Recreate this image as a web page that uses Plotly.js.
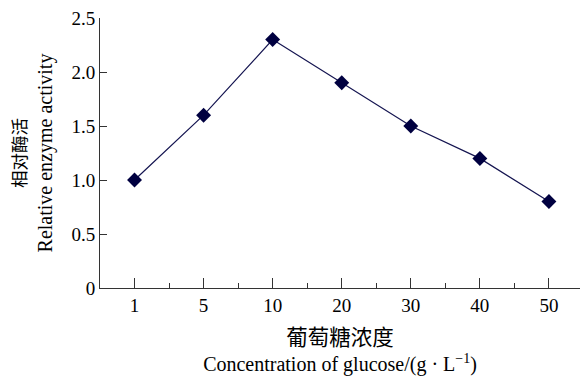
<!DOCTYPE html>
<html>
<head>
<meta charset="utf-8">
<script src="https://cdn.plot.ly/plotly-3.0.1.min.js"></script>
<style>html,body{margin:0;padding:0;background:#fff;}#chart{width:580px;height:376px;}</style>
</head>
<body>
<div id="chart"></div>
<script>
const categories = ['1', '5', '10', '20', '30', '40', '50'];
const activity = [1.0, 1.6, 2.3, 1.9, 1.5, 1.2, 0.8];
const yTickVals = [0, 0.5, 1.0, 1.5, 2.0, 2.5];
const yTickText = ['0', '0.5', '1.0', '1.5', '2.0', '2.5'];

const idx = categories.map((c, i) => i);
const minorVals = categories.slice(1).map((c, i) => i + 0.5);
const FONT = 'Liberation Serif, "Times New Roman", "Noto Sans CJK SC", serif';

const trace = {
  x: idx,
  y: activity,
  mode: 'lines+markers',
  line: {color: '#141450', width: 1.2},
  marker: {symbol: 'diamond', size: 11.5, color: '#000040'},
  cliponaxis: false,
  hoverinfo: 'x+y'
};

const layout = {
  width: 580, height: 376,
  margin: {l: 100, r: 0, t: 18, b: 88},
  paper_bgcolor: '#fff', plot_bgcolor: '#fff',
  showlegend: false,
  font: {family: FONT, size: 19, color: '#000'},
  xaxis: {
    range: [-0.5, 6.45],
    tickvals: idx, ticktext: categories,
    ticks: 'inside', ticklen: 10, tickcolor: '#333', tickwidth: 1,
    minor: {tickvals: minorVals, ticks: 'inside', ticklen: 5, tickcolor: '#333', tickwidth: 1},
    showline: true, linecolor: '#333', linewidth: 1,
    showgrid: false, zeroline: false,
    tickfont: {family: FONT, size: 19},
    title: {text: '<span style="font-size:21.5px">葡萄糖浓度</span><br>Concentration of glucose/(g · L<sup>−1</sup>)', font: {family: FONT, size: 20}, standoff: 16}
  },
  yaxis: {
    range: [0, 2.5],
    tickvals: yTickVals, ticktext: yTickText,
    ticks: 'inside', ticklen: 7, tickcolor: '#333', tickwidth: 1,
    showline: true, linecolor: '#333', linewidth: 1,
    showgrid: false, zeroline: false,
    tickfont: {family: FONT, size: 19},
    title: {text: '<span style="font-size:17.5px">相对酶活</span><br>Relative enzyme activity', font: {family: FONT, size: 20}, standoff: 13}
  }
};

Plotly.newPlot('chart', [trace], layout, {displayModeBar: false, staticPlot: true});
</script>
</body>
</html>
